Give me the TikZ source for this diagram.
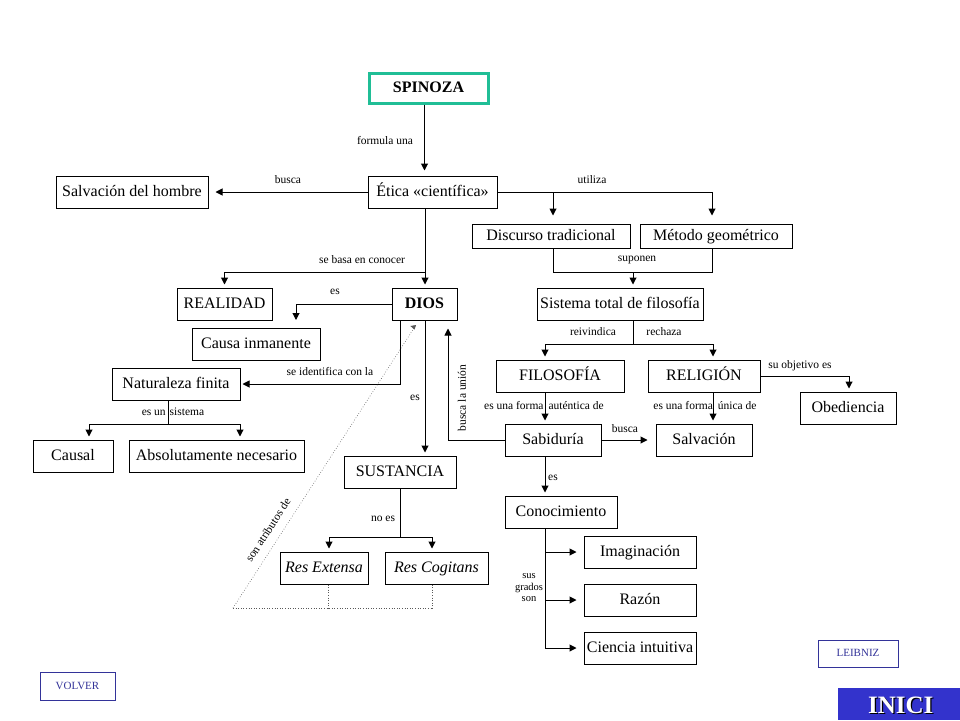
\documentclass[tikz,border=0pt]{standalone}
\usepackage{fontspec}
\setmainfont{Liberation Serif}
\usetikzlibrary{arrows.meta}
\definecolor{tealb}{RGB}{32,190,150}
\definecolor{linkblue}{RGB}{51,51,153}
\definecolor{inicibg}{RGB}{51,51,204}
\begin{document}
\begin{tikzpicture}[x=1pt,y=-1pt,
  box/.style={draw, line width=1pt, inner sep=0pt, font=\fontsize{16}{18}\selectfont, minimum height=32pt, text height=11.5pt, text depth=3.5pt},
  lbl/.style={font=\fontsize{11.5}{13}\selectfont, inner sep=0pt},
  conn/.style={line width=1pt},
  arr/.style={line width=1pt, -{Triangle[length=7pt,width=7pt]}, shorten >=5pt},
  dotl/.style={line width=0.6pt, dotted, gray!70!black},
  linkbox/.style={draw=linkblue, line width=1pt, inner sep=0pt, text=linkblue, font=\fontsize{11}{13}\selectfont, text height=8pt, text depth=2pt}]
\useasboundingbox (0,0) rectangle (960,720);
\fill[white] (0,0) rectangle (960,720);

% boxes
\node[box, draw=tealb, line width=3pt, minimum width=119pt, minimum height=30pt, font=\fontsize{16}{18}\selectfont\bfseries] (spin) at (428.5,88) {SPINOZA};
\node[box, minimum width=129pt] (etica) at (432.5,192) {Ética «científica»};
\node[box, minimum width=152pt] (salvh) at (132,192) {Salvación del hombre};
\node[box, minimum width=158pt, minimum height=24pt] (disc) at (551,236) {Discurso tradicional};
\node[box, minimum width=152pt, minimum height=24pt] (metodo) at (716,236) {Método geométrico};
\node[box, minimum width=166pt] (sist) at (620,304) {Sistema total de filosofía};
\node[box, minimum width=95pt] (real) at (224.5,304) {REALIDAD};
\node[box, minimum width=65pt, font=\fontsize{16}{18}\selectfont\bfseries] (dios) at (424.5,304) {DIOS};
\node[box, minimum width=128pt] (causa) at (256,344) {Causa inmanente};
\node[box, minimum width=128pt] (natur) at (176,384) {Naturaleza finita};
\node[box, minimum width=80pt] (causal) at (73,456) {Causal};
\node[box, minimum width=175pt] (absol) at (216.5,456) {Absolutamente necesario};
\node[box, minimum width=112pt] (sust) at (400,472) {SUSTANCIA};
\node[box, minimum width=88pt, font=\fontsize{16}{18}\selectfont\itshape] (rext) at (324,568) {Res Extensa};
\node[box, minimum width=103pt, font=\fontsize{16}{18}\selectfont\itshape] (rcog) at (436.5,568) {Res Cogitans};
\node[box, minimum width=128pt] (filo) at (560,376) {FILOSOFÍA};
\node[box, minimum width=112pt] (relig) at (704,376) {RELIGIÓN};
\node[box, minimum width=96pt] (obed) at (848,408) {Obediencia};
\node[box, minimum width=96pt] (sabi) at (553,440) {Sabiduría};
\node[box, minimum width=96pt] (salv) at (704,440) {Salvación};
\node[box, minimum width=112pt] (cono) at (561,512) {Conocimiento};
\node[box, minimum width=112pt] (imag) at (640,552) {Imaginación};
\node[box, minimum width=112pt] (razon) at (640,600) {Razón};
\node[box, minimum width=112pt] (cien) at (640,648) {Ciencia intuitiva};
\node[linkbox, minimum width=80pt, minimum height=27pt] (leib) at (858,653.5) {LEIBNIZ};
\node[linkbox, minimum width=75pt, minimum height=28pt] (volver) at (77.5,686) {VOLVER};
\fill[inicibg] (838,688) rectangle (960,720);
\node[inner sep=0pt, text=black, font=\fontsize{25}{27}\selectfont\bfseries] (inicish) at (902,706.5) {INICI};
\node[inner sep=0pt, text=white, font=\fontsize{25}{27}\selectfont\bfseries] (inici) at (900.8,705.3) {INICI};

% SPINOZA -> Etica
\draw[arr] (spin.south -| dios.north) -- (etica.north -| dios.north);
\node[lbl] (l1) at (385,141) {formula una};

% Etica -> Salvacion del hombre
\draw[arr, shorten >=7pt] (etica.west) -- (salvh.east);
\node[lbl] (l2) at (288,180) {busca};

% Etica utiliza
\coordinate (ut) at (712,192);
\coordinate (utd) at (553,192);
\draw[conn] (etica.east) -- (ut);
\draw[arr, shorten >=8pt] (ut) -- (ut |- metodo.north);
\draw[arr, shorten >=8pt] (utd) -- (utd |- disc.north);
\node[lbl] (l3) at (592,180) {utiliza};

% suponen
\coordinate (sup) at (633,272);
\draw[conn] (utd |- disc.south) -- (utd |- sup) -- (ut |- sup) -- (ut |- metodo.south);
\draw[arr, shorten >=3pt] (sup) -- (sup |- sist.north);
\node[lbl] (l4) at (637,260) {suponen};

% Etica -> DIOS, REALIDAD
\coordinate (sb) at (425,272);
\draw[arr, shorten >=3pt] (etica.south -| sb) -- (sb |- dios.north);
\draw[arr, shorten >=3pt] (sb) -- (real |- sb) -- (real.north);
\node[lbl] (l5) at (362,260) {se basa en conocer};

% DIOS es Causa inmanente
\coordinate (ci) at (296,328);
\draw[arr, shorten >=8pt] (dios.west) -| (ci);
\node[lbl] (l6) at (335,292) {es};

% DIOS se identifica con la Naturaleza finita
\coordinate (ni) at (400,384);
\draw[arr, shorten >=2pt] (ni |- dios.south) -- (ni) -- (natur.east);
\node[lbl] (l7) at (330,372) {se identifica con la};

% Naturaleza es un sistema
\coordinate (nb) at (168,424);
\coordinate (nbl) at (89,424);
\coordinate (nbr) at (240,424);
\draw[conn] (nb |- natur.south) -- (nb);
\draw[arr, shorten >=3pt] (nbl) -- (nbl |- causal.north);
\draw[arr, shorten >=3pt] (nbl) -- (nbr) -- (nbr |- absol.north);
\node[lbl] (l8) at (173,412) {es un\hspace{4pt}sistema};

% DIOS es SUSTANCIA
\coordinate (ds) at (425,320);
\draw[arr, shorten >=3pt] (ds) -- (ds |- sust.north);
\node[lbl] (l9) at (415,398) {es};

% SUSTANCIA no es
\coordinate (sn) at (400,537);
\coordinate (snl) at (329,537);
\coordinate (snr) at (432,537);
\draw[conn] (sn |- sust.south) -- (sn);
\draw[arr, shorten >=3pt] (snl) -- (snl |- rext.north);
\draw[arr, shorten >=3pt] (snl) -- (snr) -- (snr |- rcog.north);
\node[lbl] (l10) at (383,519) {no es};

% son atributos de (dotted)
\coordinate (dl) at (328,608);
\coordinate (dr) at (432,608);
\coordinate (dc) at (233,608);
\coordinate (dt) at (416,325);
\draw[dotl] (dl |- rext.south) -- (dl);
\draw[dotl] (dr |- rcog.south) -- (dr);
\draw[dotl] (dc) -- (dr);
\draw[dotl] (dc) -- (dt);
\fill[gray!70!black] (dt) -- ++(-5.6,1.0) -- ++(4.1,3.7) -- cycle;
\node[lbl, rotate=57] (l11) at (268,530) {son atributos de};

% busca la union
\coordinate (bu) at (448,440);
\draw[arr, shorten >=8pt] (sabi.west) -- (bu) -- (bu |- dios.south);
\node[lbl, rotate=90] (l12) at (462,398) {busca la unión};

% Sistema reivindica / rechaza
\coordinate (sr) at (633,344);
\coordinate (srl) at (545,344);
\coordinate (srr) at (713,344);
\draw[conn] (sr |- sist.south) -- (sr);
\draw[arr, shorten >=3pt] (srl) -- (srl |- filo.north);
\draw[arr, shorten >=3pt] (srl) -- (srr) -- (srr |- relig.north);
\node[lbl] (l13) at (593,332) {reivindica};
\node[lbl] (l14) at (664,332) {rechaza};

% RELIGION su objetivo es
\coordinate (so) at (849,376);
\draw[arr, shorten >=3pt] (relig.east) -- (so) -- (so |- obed.north);
\node[lbl] (l15) at (800,366) {su objetivo es};

% FILOSOFIA -> Sabiduria ; RELIGION -> Salvacion
\draw[arr, shorten >=3pt] (srl |- filo.south) -- (srl |- sabi.north);
\node[lbl] (l16) at (544,406) {es una forma\hspace{5pt}auténtica de};
\draw[arr, shorten >=3pt] (srr |- relig.south) -- (srr |- salv.north);
\node[lbl] (l17) at (705,406) {es una forma\hspace{5pt}única de};

% Sabiduria busca Salvacion
\draw[arr, shorten >=8pt] (sabi.east) -- (salv.west);
\node[lbl] (l18) at (625,429) {busca};

% Sabiduria es Conocimiento
\draw[arr, shorten >=3pt] (srl |- sabi.south) -- (srl |- cono.north);
\node[lbl] (l19) at (553,478) {es};

% Conocimiento sus grados son
\coordinate (cg) at (545,648);
\draw[conn] (cg |- cono.south) -- (cg);
\draw[arr, shorten >=7pt] (cg |- imag.west) -- (imag.west);
\draw[arr, shorten >=7pt] (cg |- razon.west) -- (razon.west);
\draw[arr, shorten >=7pt] (cg) -- (cien.west);
\node[lbl, align=center, font=\fontsize{10.5}{11.5}\selectfont] (l20) at (529,588) {sus\\grados\\son};
\end{tikzpicture}
\end{document}
